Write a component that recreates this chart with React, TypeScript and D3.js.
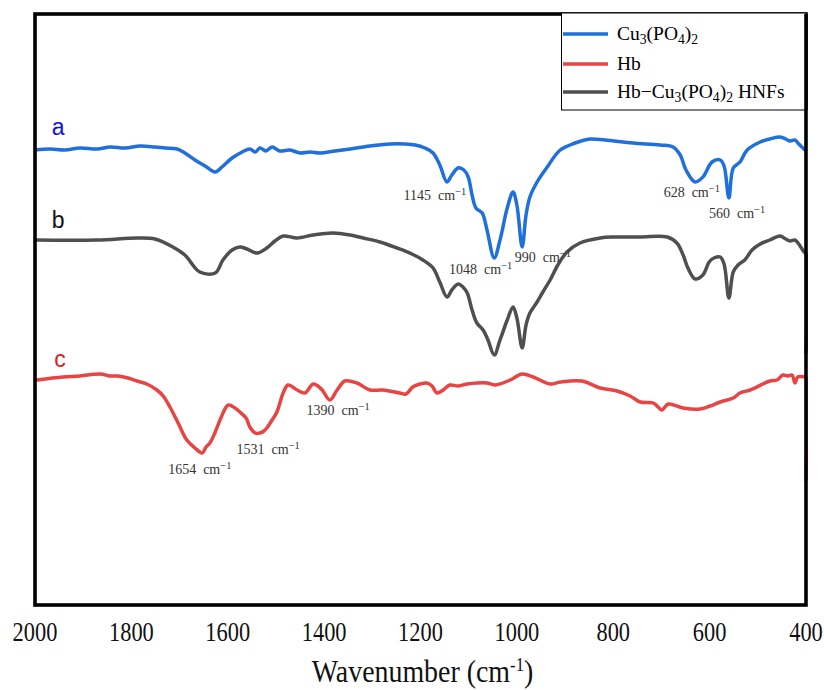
import React from "react";
import * as d3 from "d3";

// Data: [wavenumber (cm^-1), transmittance (a.u.)]
const seriesCu: [number, number][] = [
  [2000, 455], [1969, 456], [1938, 455], [1907, 457], [1871, 456], [1844, 458], [1813, 457],
  [1782, 459], [1751, 458], [1730, 457], [1705, 456], [1689, 452], [1668, 445], [1647, 439],
  [1626, 433], [1612, 438], [1591, 447], [1570, 453], [1554, 456], [1543, 453], [1533, 457],
  [1521, 454], [1508, 458], [1492, 454], [1471, 455], [1450, 452], [1429, 453], [1409, 452],
  [1377, 454], [1346, 456], [1305, 459], [1263, 461], [1232, 461], [1211, 460], [1191, 457],
  [1174, 452], [1160, 440], [1145, 423], [1135, 430], [1122, 437], [1110, 435], [1101, 428],
  [1093, 410], [1085, 397], [1072, 392], [1062, 375], [1047, 347], [1035, 365], [1020, 397],
  [1008, 413], [1000, 400], [989, 358], [981, 390], [973, 408], [958, 423], [937, 438],
  [910, 455], [879, 462], [848, 466], [817, 465], [759, 462], [703, 460], [676, 458],
  [661, 450], [649, 435], [630, 423], [614, 428], [595, 443], [578, 445], [570, 439],
  [560, 407], [551, 437], [537, 443], [522, 455], [495, 463], [475, 466], [454, 468],
  [442, 466], [433, 464], [423, 465], [415, 461], [402, 455],
];

const seriesHNF: [number, number][] = [
  [2000, 365], [1871, 365], [1788, 367], [1751, 366], [1714, 358], [1689, 350], [1658, 333],
  [1626, 332], [1610, 345], [1591, 355], [1575, 358], [1560, 356], [1539, 352], [1519, 357],
  [1502, 364], [1485, 369], [1456, 367], [1423, 370], [1382, 372], [1346, 370], [1319, 367],
  [1284, 363], [1249, 357], [1218, 351], [1195, 345], [1174, 337], [1160, 323], [1145, 308],
  [1135, 315], [1122, 321], [1112, 318], [1103, 312], [1093, 295], [1083, 282], [1070, 275],
  [1060, 265], [1047, 250], [1035, 265], [1020, 285], [1008, 298], [1000, 287], [989, 257],
  [981, 280], [973, 292], [958, 303], [946, 313], [931, 325], [915, 340], [896, 353],
  [869, 362], [827, 367], [800, 368], [744, 368], [688, 368], [668, 362], [655, 350],
  [645, 337], [630, 326], [614, 330], [601, 343], [591, 347], [578, 348], [570, 341],
  [560, 307], [551, 333], [541, 340], [527, 345], [512, 355], [495, 361], [475, 365],
  [454, 369], [442, 366], [433, 364], [423, 365], [415, 361], [404, 353], [400.5, 352],
  [400, 252],
];

const seriesHb: [number, number][] = [
  [1996, 225], [1942, 228], [1907, 229], [1865, 231], [1844, 229], [1828, 229], [1807, 227],
  [1788, 224], [1768, 221], [1747, 215], [1734, 209], [1720, 198], [1703, 182], [1685, 165],
  [1668, 157], [1653, 152], [1645, 158], [1637, 162], [1626, 173], [1616, 185], [1599, 200],
  [1585, 197], [1575, 193], [1562, 187], [1554, 178], [1543, 172], [1533, 172], [1525, 174],
  [1519, 177], [1508, 185], [1498, 193], [1485, 212], [1475, 220], [1456, 215], [1440, 212],
  [1423, 221], [1413, 219], [1404, 215], [1388, 205], [1373, 215], [1357, 224], [1332, 222],
  [1305, 215], [1278, 215], [1243, 212], [1230, 211], [1216, 218], [1201, 221], [1187, 222],
  [1176, 219], [1166, 212], [1153, 215], [1139, 220], [1122, 219], [1103, 221], [1083, 222],
  [1062, 222], [1045, 220], [1014, 225], [989, 231], [966, 228], [931, 221], [910, 223],
  [865, 224], [827, 217], [792, 214], [765, 209], [744, 203], [717, 202], [707, 198],
  [699, 195], [686, 201], [655, 197], [620, 196], [599, 199], [578, 203], [551, 207],
  [537, 212], [516, 215], [475, 224], [460, 225], [448, 230], [438, 229], [429, 230],
  [423, 222], [417, 228], [402, 228], [400.5, 228], [400, 125],
];

const xTicks = [2000, 1800, 1600, 1400, 1200, 1000, 800, 600, 400];

const curveLetters = [
  { text: "a", w: 1965, v: 470, color: "#1010e6" },
  { text: "b", w: 1965, v: 377, color: "#111111" },
  { text: "c", w: 1960, v: 238, color: "#e01818" },
];

const peakLabels = [
  { num: "1145", w: 1170, v: 405 },
  { num: "1048", w: 1075, v: 331 },
  { num: "990", w: 946, v: 343 },
  { num: "628", w: 637, v: 408 },
  { num: "560", w: 543, v: 387 },
  { num: "1654", w: 1658, v: 131 },
  { num: "1531", w: 1516, v: 151 },
  { num: "1390", w: 1371, v: 190 },
];

const legendItems = [
  { key: "cu", color: "#1f6fdc" },
  { key: "hb", color: "#e84444" },
  { key: "hnf", color: "#4f4f4f" },
];

const W = 824;
const H = 690;
const left = 35;
const right = 806;
const top = 14;
const bottom = 605;

export default function App() {
  const x = d3.scaleLinear().domain([2000, 400]).range([left, right]);
  const y = d3.scaleLinear().domain([0, 600]).range([605, 5]);
  const line = d3
    .line<[number, number]>()
    .x((d) => x(d[0]))
    .y((d) => y(d[1]))
    .curve(d3.curveCatmullRom.alpha(0.5));

  const serif = "Liberation Serif";
  const sans = "Liberation Sans";

  const lx = 563;
  const legendRows = [34, 64, 92];

  const sub = (t: string) => (
    <tspan baselineShift="-25%" fontSize="70%">{t}</tspan>
  );

  const legendText = [
    <>Cu{sub("3")}(PO{sub("4")}){sub("2")}</>,
    <>Hb</>,
    <>Hb−Cu{sub("3")}(PO{sub("4")}){sub("2")} HNFs</>,
  ];

  return (
    <svg width={W} height={H} style={{ position: "absolute", left: 0, top: 0, background: "#fff" }}>
      <rect x={0} y={0} width={W} height={H} fill="#fff" />
      <defs>
        <clipPath id="plotclip">
          <rect x={left} y={top} width={right - left + 2} height={bottom - top} />
        </clipPath>
      </defs>
      <g clipPath="url(#plotclip)" fill="none" strokeWidth={3.5} strokeLinejoin="round" strokeLinecap="round">
        <path d={line(seriesHNF) || ""} stroke={legendItems[2].color} />
        <path d={line(seriesHb) || ""} stroke={legendItems[1].color} />
        <path d={line(seriesCu) || ""} stroke={legendItems[0].color} />
      </g>

      {curveLetters.map((c) => (
        <text key={c.text} x={x(c.w)} y={y(c.v)} fill={c.color} fontFamily={sans} fontSize={23}>
          {c.text}
        </text>
      ))}

      {peakLabels.map((p) => (
        <text key={p.num} x={x(p.w)} y={y(p.v)} textAnchor="middle" fill="#333" fontFamily={serif} fontSize={14}>
          {p.num}{"\u00A0\u00A0"}cm
          <tspan baselineShift="super" fontSize="75%">−1</tspan>
        </text>
      ))}

      {/* frame */}
      <rect x={left} y={top} width={right - left} height={bottom - top} fill="none" stroke="#000" strokeWidth={3.6} />

      {/* legend */}
      <rect x={561.5} y={13} width={right - 561.5} height={97} fill="#fff" stroke="#000" strokeWidth={1} />
      <line x1={right} y1={top} x2={right} y2={110} stroke="#000" strokeWidth={3.6} />
      {legendItems.map((it, i) => (
        <g key={it.key}>
          <line x1={lx} x2={lx + 45} y1={legendRows[i]} y2={legendRows[i]} stroke={it.color} strokeWidth={3.5} />
          <text x={617} y={legendRows[i] + 6} fontFamily={serif} fontSize={19.5} fill="#000">
            {legendText[i]}
          </text>
        </g>
      ))}

      {/* x ticks */}
      {xTicks.map((t) => (
        <text
          key={t}
          transform={`translate(${x(t)},641) scale(0.8,1)`}
          textAnchor="middle"
          fontFamily={serif}
          fontSize={28}
          fill="#111"
        >
          {t}
        </text>
      ))}
      <text transform={`translate(${(left + right) / 2 + 2},682) scale(0.9,1)`} textAnchor="middle" fontFamily={serif} fontSize={31} fill="#111">
        Wavenumber (cm
        <tspan baselineShift="super" fontSize="60%">-1</tspan>
        <tspan baselineShift="0">)</tspan>
      </text>
    </svg>
  );
}
